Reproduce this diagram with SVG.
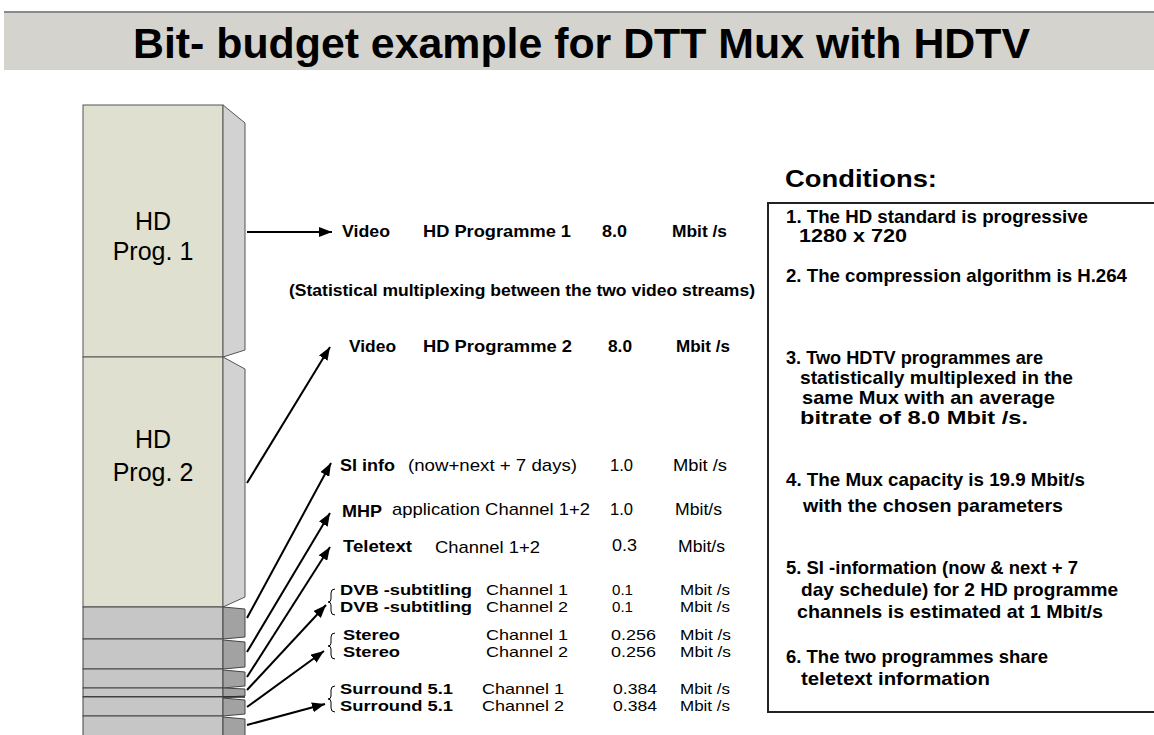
<svg xmlns="http://www.w3.org/2000/svg" width="1154" height="735" viewBox="0 0 1154 735">
<defs>
<style>
text{font-family:"Liberation Sans",Arial,sans-serif;fill:#000}
.t{font-size:43px;font-weight:bold}
.b{font-size:17px;font-weight:bold}
.n{font-size:17px}
.sb{font-size:15px;font-weight:bold}
.sn{font-size:15px}
.c{font-size:19px;font-weight:bold}
.p{font-size:25px;text-anchor:middle}
.hd{fill:#dfe0cf;stroke:#555;stroke-width:1}
.hs{fill:#d2d2d2;stroke:#555;stroke-width:1}
.gb{fill:#c6c6c6;stroke:#444;stroke-width:1}
.gs{fill:#a2a2a2;stroke:#444;stroke-width:1}
.ar{stroke:#000;stroke-width:2;fill:none;marker-end:url(#ah)}
.br{stroke:#000;stroke-width:1;fill:none}
</style>
<marker id="ah" viewBox="0 0 13 10" markerUnits="userSpaceOnUse" markerWidth="13" markerHeight="10" refX="13" refY="5" orient="auto">
<path d="M0,0 L13,5 L0,10 z" fill="#000"/>
</marker>
</defs>
<rect width="1154" height="735" fill="#fff"/>
<g id="title">
<rect x="4" y="11" width="1150" height="59" fill="#d4d3ce"/>
<rect x="4" y="11" width="1150" height="2" fill="#8a8a8a"/>
<text class="t" x="133" y="58" textLength="897" lengthAdjust="spacingAndGlyphs">Bit- budget example for DTT  Mux with HDTV</text>
</g>
<g id="hd1">
<rect class="hd" x="83" y="105" width="140" height="252"/>
<polygon class="hs" points="223,105 245,123 245,350 223,357"/>
<text class="p" x="153" y="230">HD</text>
<text class="p" x="153" y="260">Prog. 1</text>
</g>
<g id="hd2">
<rect class="hd" x="83" y="357" width="140" height="250"/>
<polygon class="hs" points="223,357 245,369 245,597 223,607"/>
<text class="p" x="153" y="448">HD</text>
<text class="p" x="153" y="481">Prog. 2</text>
</g>
<g id="blocks">
<rect class="gb" x="83" y="607" width="140" height="32"/>
<polygon class="gs" points="223,607 245,609 245,637 223,639"/>
<rect class="gb" x="83" y="639" width="140" height="30"/>
<polygon class="gs" points="223,640 245,642 245,667 223,669"/>
<rect class="gb" x="83" y="669" width="140" height="19"/>
<polygon class="gs" points="223,670 245,672 245,686 223,688"/>
<rect class="gb" x="83" y="688" width="140" height="9"/>
<polygon class="gs" points="223,688 245,689 245,696 223,697"/>
<line x1="83" y1="697" x2="245" y2="697" stroke="#222" stroke-width="1.5"/>
<rect class="gb" x="83" y="697" width="140" height="19"/>
<polygon class="gs" points="223,698 245,700 245,714 223,716"/>
<rect class="gb" x="83" y="716" width="140" height="25"/>
<polygon class="gs" points="223,717 245,719 245,741 223,741"/>
</g>
<g id="connectors">
<line class="ar" x1="247" y1="232" x2="332" y2="232"/>
<line class="ar" x1="247" y1="483" x2="330" y2="347"/>
<line class="ar" x1="247" y1="618" x2="331" y2="463"/>
<line class="ar" x1="247" y1="652" x2="330" y2="513"/>
<line class="ar" x1="247" y1="677" x2="330" y2="547"/>
<line class="ar" x1="247" y1="690" x2="326" y2="605"/>
<line class="ar" x1="247" y1="707" x2="324" y2="651"/>
<line class="ar" x1="247" y1="725" x2="325" y2="704"/>
<path class="br" d="M335,589 q-4,0 -4,4 v6 q0,3 -3,3 q3,0 3,3 v6 q0,4 4,4"/>
<path class="br" d="M335,633 q-4,0 -4,4 v6 q0,3 -3,3 q3,0 3,3 v6 q0,4 4,4"/>
<path class="br" d="M335,686 q-4,0 -4,4 v6 q0,3 -3,3 q3,0 3,3 v6 q0,4 4,4"/>
</g>
<g id="rows">
<text class="b" x="342" y="237" textLength="48" lengthAdjust="spacingAndGlyphs">Video</text>
<text class="b" x="423" y="237" textLength="148" lengthAdjust="spacingAndGlyphs">HD Programme 1</text>
<text class="b" x="602" y="237" textLength="25" lengthAdjust="spacingAndGlyphs">8.0</text>
<text class="b" x="672" y="237" textLength="55" lengthAdjust="spacingAndGlyphs">Mbit /s</text>
<text class="b" x="289" y="296" textLength="466" lengthAdjust="spacingAndGlyphs">(Statistical  multiplexing between the two video streams)</text>
<text class="b" x="349" y="352" textLength="47" lengthAdjust="spacingAndGlyphs">Video</text>
<text class="b" x="423" y="352" textLength="149" lengthAdjust="spacingAndGlyphs">HD Programme 2</text>
<text class="b" x="608" y="352" textLength="24" lengthAdjust="spacingAndGlyphs">8.0</text>
<text class="b" x="676" y="352" textLength="54" lengthAdjust="spacingAndGlyphs">Mbit /s</text>
<text class="b" x="340" y="471" textLength="55" lengthAdjust="spacingAndGlyphs">SI info</text>
<text class="n" x="408" y="471" textLength="169" lengthAdjust="spacingAndGlyphs">(now+next  + 7 days)</text>
<text class="n" x="610" y="471" textLength="23" lengthAdjust="spacingAndGlyphs">1.0</text>
<text class="n" x="673" y="471" textLength="54" lengthAdjust="spacingAndGlyphs">Mbit /s</text>
<text class="b" x="342" y="517" textLength="40" lengthAdjust="spacingAndGlyphs">MHP</text>
<text class="n" x="392" y="515" textLength="198" lengthAdjust="spacingAndGlyphs">application Channel 1+2</text>
<text class="n" x="610" y="515" textLength="23" lengthAdjust="spacingAndGlyphs">1.0</text>
<text class="n" x="675" y="515" textLength="47" lengthAdjust="spacingAndGlyphs">Mbit/s</text>
<text class="b" x="343" y="552" textLength="69" lengthAdjust="spacingAndGlyphs">Teletext</text>
<text class="n" x="435" y="553" textLength="105" lengthAdjust="spacingAndGlyphs">Channel 1+2</text>
<text class="n" x="612" y="551" textLength="25" lengthAdjust="spacingAndGlyphs">0.3</text>
<text class="n" x="678" y="552" textLength="47" lengthAdjust="spacingAndGlyphs">Mbit/s</text>
<text class="sb" x="340" y="595" textLength="132" lengthAdjust="spacingAndGlyphs">DVB -subtitling</text>
<text class="sn" x="486" y="595" textLength="82" lengthAdjust="spacingAndGlyphs">Channel 1</text>
<text class="sn" x="612" y="595" textLength="21" lengthAdjust="spacingAndGlyphs">0.1</text>
<text class="sn" x="680" y="595" textLength="50" lengthAdjust="spacingAndGlyphs">Mbit /s</text>
<text class="sb" x="340" y="612" textLength="132" lengthAdjust="spacingAndGlyphs">DVB -subtitling</text>
<text class="sn" x="486" y="612" textLength="82" lengthAdjust="spacingAndGlyphs">Channel 2</text>
<text class="sn" x="612" y="612" textLength="21" lengthAdjust="spacingAndGlyphs">0.1</text>
<text class="sn" x="680" y="612" textLength="50" lengthAdjust="spacingAndGlyphs">Mbit /s</text>
<text class="sb" x="343" y="640" textLength="57" lengthAdjust="spacingAndGlyphs">Stereo</text>
<text class="sn" x="486" y="640" textLength="82" lengthAdjust="spacingAndGlyphs">Channel 1</text>
<text class="sn" x="611" y="640" textLength="45" lengthAdjust="spacingAndGlyphs">0.256</text>
<text class="sn" x="680" y="640" textLength="51" lengthAdjust="spacingAndGlyphs">Mbit /s</text>
<text class="sb" x="343" y="657" textLength="57" lengthAdjust="spacingAndGlyphs">Stereo</text>
<text class="sn" x="486" y="657" textLength="82" lengthAdjust="spacingAndGlyphs">Channel 2</text>
<text class="sn" x="611" y="657" textLength="45" lengthAdjust="spacingAndGlyphs">0.256</text>
<text class="sn" x="680" y="657" textLength="51" lengthAdjust="spacingAndGlyphs">Mbit /s</text>
<text class="sb" x="340" y="694" textLength="113" lengthAdjust="spacingAndGlyphs">Surround 5.1</text>
<text class="sn" x="482" y="694" textLength="82" lengthAdjust="spacingAndGlyphs">Channel 1</text>
<text class="sn" x="613" y="694" textLength="44" lengthAdjust="spacingAndGlyphs">0.384</text>
<text class="sn" x="680" y="694" textLength="50" lengthAdjust="spacingAndGlyphs">Mbit /s</text>
<text class="sb" x="340" y="711" textLength="113" lengthAdjust="spacingAndGlyphs">Surround 5.1</text>
<text class="sn" x="482" y="711" textLength="82" lengthAdjust="spacingAndGlyphs">Channel 2</text>
<text class="sn" x="613" y="711" textLength="44" lengthAdjust="spacingAndGlyphs">0.384</text>
<text class="sn" x="680" y="711" textLength="50" lengthAdjust="spacingAndGlyphs">Mbit /s</text>
</g>
<g id="conditions">
<text x="785" y="187" style="font-size:24px;font-weight:bold" textLength="152" lengthAdjust="spacingAndGlyphs">Conditions:</text>
<rect x="768" y="203" width="400" height="509" fill="#fff" stroke="#222" stroke-width="2"/>
<text class="c" x="786" y="223" textLength="302" lengthAdjust="spacingAndGlyphs">1. The HD standard is progressive</text>
<text class="c" x="799" y="242" textLength="108" lengthAdjust="spacingAndGlyphs">1280 x 720</text>
<text class="c" x="786" y="282" textLength="341" lengthAdjust="spacingAndGlyphs">2. The compression algorithm is H.264</text>
<text class="c" x="786" y="364" textLength="257" lengthAdjust="spacingAndGlyphs">3. Two HDTV programmes are</text>
<text class="c" x="800" y="384" textLength="273" lengthAdjust="spacingAndGlyphs">statistically multiplexed in the</text>
<text class="c" x="802" y="404" textLength="253" lengthAdjust="spacingAndGlyphs">same  Mux  with an average</text>
<text class="c" x="800" y="424" textLength="228" lengthAdjust="spacingAndGlyphs">bitrate  of 8.0  Mbit /s.</text>
<text class="c" x="786" y="486" textLength="299" lengthAdjust="spacingAndGlyphs">4. The Mux capacity is 19.9 Mbit/s</text>
<text class="c" x="803" y="512" textLength="260" lengthAdjust="spacingAndGlyphs">with the chosen parameters</text>
<text class="c" x="786" y="574" textLength="292" lengthAdjust="spacingAndGlyphs">5. SI -information (now &amp; next + 7</text>
<text class="c" x="801" y="596" textLength="317" lengthAdjust="spacingAndGlyphs">day schedule) for 2 HD programme</text>
<text class="c" x="797" y="618" textLength="306" lengthAdjust="spacingAndGlyphs">channels is estimated at 1 Mbit/s</text>
<text class="c" x="786" y="663" textLength="262" lengthAdjust="spacingAndGlyphs">6. The two programmes share</text>
<text class="c" x="801" y="685" textLength="189" lengthAdjust="spacingAndGlyphs">teletext information</text>
</g>
</svg>
